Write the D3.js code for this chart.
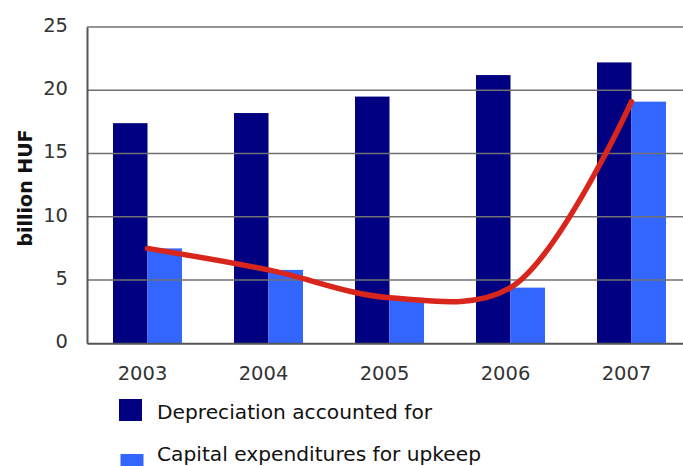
<!DOCTYPE html>
<html>
<head>
<meta charset="utf-8">
<script src="https://cdn.jsdelivr.net/npm/d3@7/dist/d3.min.js"></script>
<style>
  html, body { margin: 0; padding: 0; background: #fff; }
  svg { display: block; font-family: "DejaVu Sans", Verdana, sans-serif; }
</style>
</head>
<body>
<svg id="chart" width="683" height="466"></svg>
<script>
// Data
const years = ["2003", "2004", "2005", "2006", "2007"];
const depreciation = [17.4, 18.2, 19.5, 21.2, 22.2];
const capex = [7.5, 5.8, 3.6, 4.4, 19.1];
const yTicks = [0, 5, 10, 15, 20, 25];
const seriesNames = ["Depreciation accounted for", "Capital expenditures for upkeep"];
const seriesColors = ["#000080", "#3366ff"];

const svg = d3.select("#chart");
const plotLeft = 87, plotRight = 692, plotTop = 27, plotBottom = 343.3;

const x = d3.scaleBand().domain(years).range([plotLeft, plotRight]).paddingInner(0.43).paddingOuter(0.215);
const y = d3.scaleLinear().domain([0, 25]).range([plotBottom, plotTop]);
const bw = x.bandwidth() / 2;

// Bars
const g = svg.append("g");
years.forEach((yr, i) => {
  g.append("rect")
    .attr("x", x(yr)).attr("y", y(depreciation[i]))
    .attr("width", bw).attr("height", y(0) - y(depreciation[i]))
    .attr("fill", seriesColors[0]);
  g.append("rect")
    .attr("x", x(yr) + bw).attr("y", y(capex[i]))
    .attr("width", bw).attr("height", y(0) - y(capex[i]))
    .attr("fill", seriesColors[1]);
});

// Gridlines (drawn over the bars)
svg.append("g")
  .selectAll("line")
  .data(yTicks.filter(d => d > 0))
  .join("line")
  .attr("x1", plotLeft).attr("x2", 683)
  .attr("y1", d => y(d)).attr("y2", d => y(d))
  .attr("stroke", "#707070").attr("stroke-width", 1.5);

// Axes
const yAxis = svg.append("g")
  .attr("transform", `translate(${plotLeft},0)`)
  .call(d3.axisLeft(y).tickValues(yTicks).tickSize(0).tickPadding(19));
yAxis.select(".domain").attr("stroke", "#555").attr("stroke-width", 2);
yAxis.selectAll("text").attr("font-size", 19.5).attr("fill", "#333")
  .attr("dy", "0.22em")
  .attr("font-family", "DejaVu Sans, Verdana, sans-serif");

const xAxis = svg.append("g")
  .attr("transform", `translate(0,${plotBottom})`)
  .call(d3.axisBottom(x).tickSize(0).tickPadding(23));
xAxis.select(".domain").attr("stroke", "#555").attr("stroke-width", 2);
xAxis.selectAll("text").attr("font-size", 19.5).attr("fill", "#333")
  .attr("dx", -5)
  .attr("font-family", "DejaVu Sans, Verdana, sans-serif");

// Axis title
svg.append("text")
  .attr("transform", "translate(32,188) rotate(-90)")
  .attr("text-anchor", "middle")
  .attr("font-size", 19).attr("font-weight", "bold").attr("fill", "#111")
  .text("billion HUF");

// Trend curve through capital expenditures
const line = d3.line()
  .x((d, i) => x(years[i]) + bw)
  .y(d => y(d))
  .curve(d3.curveCatmullRom.alpha(0.5));
svg.append("path")
  .datum(capex)
  .attr("d", line)
  .attr("fill", "none")
  .attr("stroke", "#d9261c")
  .attr("stroke-width", 5.5)
  .attr("stroke-linecap", "round");

// Legend
const legend = svg.append("g");
const legendRows = [
  { box: 399, text: 419 },
  { box: 454, text: 461 }
];
seriesNames.forEach((name, i) => {
  legend.append("rect")
    .attr("x", 119 + i * 1.5).attr("y", legendRows[i].box)
    .attr("width", 23).attr("height", 22)
    .attr("fill", seriesColors[i]);
  legend.append("text")
    .attr("x", 157).attr("y", legendRows[i].text)
    .attr("font-size", 20.2).attr("fill", "#111")
    .text(name);
});
</script>
</body>
</html>
